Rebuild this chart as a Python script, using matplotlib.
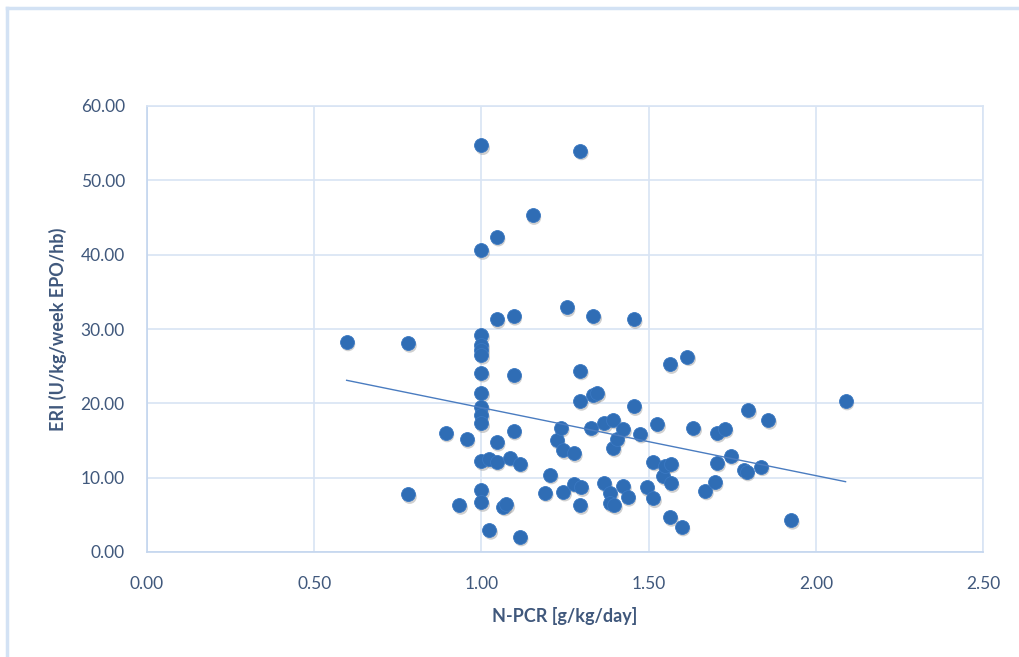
import numpy as np
import matplotlib
matplotlib.use("Agg")
import matplotlib.pyplot as plt
import matplotlib.transforms as mtransforms
from matplotlib.lines import Line2D

# N-PCR vs ERI values
npcr = [0.597, 0.781, 0.781, 0.893, 0.934, 0.956,
        1.0, 1.0, 1.0, 1.0, 1.0, 1.0, 1.0, 1.0, 1.0, 1.0, 1.0, 1.0, 1.0, 1.0,
        1.024, 1.024, 1.046, 1.046, 1.046, 1.046, 1.066, 1.075, 1.086,
        1.096, 1.096, 1.096, 1.115, 1.115, 1.153, 1.19, 1.205, 1.225, 1.238,
        1.245, 1.245, 1.255, 1.277, 1.277, 1.295, 1.295, 1.295, 1.298, 1.295,
        1.328, 1.335, 1.335, 1.347, 1.367, 1.367, 1.385, 1.385, 1.394, 1.394,
        1.397, 1.405, 1.424, 1.424, 1.437, 1.456, 1.456, 1.474, 1.494, 1.514,
        1.514, 1.526, 1.544, 1.549, 1.567, 1.567, 1.564, 1.564, 1.599, 1.616,
        1.634, 1.669, 1.698, 1.705, 1.705, 1.728, 1.746, 1.786, 1.793, 1.798,
        1.836, 1.858, 1.926, 2.089]
eri = [28.3, 28.1, 7.76, 16.05, 6.3, 15.2,
       54.7, 40.6, 29.2, 27.85, 27.2, 26.5, 24.1, 21.4, 19.5, 18.4, 17.3, 12.2, 8.3, 6.7,
       12.5, 2.95, 42.4, 31.3, 14.8, 12.15, 6.1, 6.4, 12.7,
       31.75, 23.8, 16.3, 11.9, 2.06, 45.3, 8.0, 10.4, 15.1, 16.7,
       13.7, 8.1, 32.9, 13.3, 9.2, 54.0, 24.4, 20.3, 8.7, 6.3,
       16.7, 31.75, 21.1, 21.4, 17.3, 9.3, 7.9, 6.55, 17.8, 14.0,
       6.3, 15.2, 16.5, 8.9, 7.4, 31.3, 19.6, 15.9, 8.7, 12.15,
       7.2, 17.2, 10.2, 11.6, 11.9, 9.25, 25.25, 4.7, 3.4, 26.3,
       16.7, 8.25, 9.4, 16.0, 12.0, 16.55, 12.95, 11.0, 10.8, 19.1,
       11.5, 17.75, 4.3, 20.35]

# linear trend line end points
trend_x = [0.597, 2.089]
trend_y = [23.1, 9.46]

xticks = [0.0, 0.5, 1.0, 1.5, 2.0, 2.5]
yticks = [0, 10, 20, 30, 40, 50, 60]

plt.rcParams['font.family'] = ['Lato', 'DejaVu Sans']
txt_col = '#40587c'
grid_col = '#d8e4f4'

fig = plt.figure(figsize=(10.19, 6.57), dpi=100)
ax = fig.add_axes([147 / 1019, 1 - 552 / 657, (983 - 147) / 1019, (552 - 106) / 657])

# soft shadow under the markers
shadow = mtransforms.offset_copy(ax.transData, fig=fig, x=1.5, y=-2.5, units='dots')
ax.scatter(npcr, eri, s=105, color='#7a7a7a', alpha=0.35, edgecolors='none',
           transform=shadow, zorder=2)
ax.scatter(npcr, eri, s=100, color='#2f6db5', edgecolors='#3a78c2', linewidths=0.6, zorder=3)
ax.plot(trend_x, trend_y, color='#4a7cc0', linewidth=1.0, zorder=4)

ax.set_xlim(0, 2.5)
ax.set_ylim(0, 60)
ax.set_xticks(xticks)
ax.set_yticks(yticks)
ax.set_xticklabels([f"{v:.2f}" for v in xticks])
ax.set_yticklabels([f"{v:.2f}" for v in yticks])
ax.tick_params(length=0, labelsize=12.5, colors=txt_col)
ax.tick_params(axis='x', pad=17)
ax.tick_params(axis='y', pad=16)
ax.grid(True, color=grid_col, linewidth=1.2)
ax.set_axisbelow(True)
for s in ax.spines.values():
    s.set_color(grid_col)
    s.set_linewidth(1.2)
ax.spines['left'].set_color('#c3d5ee')
ax.spines['bottom'].set_color('#c3d5ee')

ax.set_xlabel('N-PCR [g/kg/day]', fontsize=13, fontweight='bold', color=txt_col, labelpad=11)
ax.set_ylabel('ERI (U/kg/week EPO/hb)', fontsize=13, fontweight='bold', color=txt_col, labelpad=10)

# outer chart frame (top and left edges only)
fig.add_artist(Line2D([7 / 1019, 1], [1 - 8 / 657, 1 - 8 / 657], color='#d3e2f4', linewidth=2.5))
fig.add_artist(Line2D([7 / 1019, 7 / 1019], [0, 1 - 8 / 657], color='#d3e2f4', linewidth=2.5))

fig.savefig('out.png', dpi=100)
